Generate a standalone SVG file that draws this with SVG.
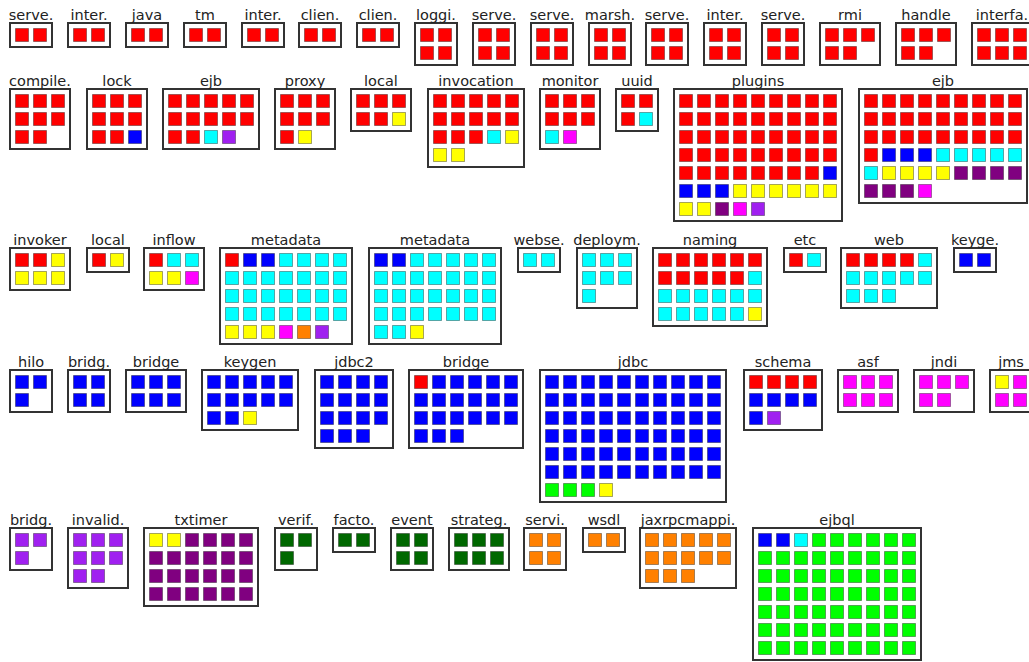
<svg xmlns="http://www.w3.org/2000/svg" width="1029" height="662" viewBox="0 0 1029 662">
<style>
.box{fill:#fff;stroke:#333;stroke-width:2}
text{font-family:"DejaVu Sans","Liberation Sans",sans-serif;font-size:14.5px;fill:#222;text-anchor:middle}
.r,.b,.c,.y,.m,.v,.p,.o,.g,.d{stroke:#000;stroke-opacity:.35;stroke-width:1}
.r{fill:#f00}.b{fill:#00f}.c{fill:#0ff}.y{fill:#ff0}.m{fill:#f0f}.v{fill:#a020f0}.p{fill:#800080}.o{fill:#ff8000}.g{fill:#0f0}.d{fill:#006800}
</style>
<rect width="1029" height="662" fill="#fff"/>
<g id="connectors"/>

<g id="n01" transform="translate(9,22)"><rect class="box" x="1" y="1" width="42" height="24"/><text x="22" y="-2">serve.</text><g class="r"><rect x="6.5" y="6.5" width="13" height="13"/><rect x="24.5" y="6.5" width="13" height="13"/></g></g>
<g id="n02" transform="translate(67,22)"><rect class="box" x="1" y="1" width="42" height="24"/><text x="22" y="-2">inter.</text><g class="r"><rect x="6.5" y="6.5" width="13" height="13"/><rect x="24.5" y="6.5" width="13" height="13"/></g></g>
<g id="n03" transform="translate(125,22)"><rect class="box" x="1" y="1" width="42" height="24"/><text x="22" y="-2">java</text><g class="r"><rect x="6.5" y="6.5" width="13" height="13"/><rect x="24.5" y="6.5" width="13" height="13"/></g></g>
<g id="n04" transform="translate(183,22)"><rect class="box" x="1" y="1" width="42" height="24"/><text x="22" y="-2">tm</text><g class="r"><rect x="6.5" y="6.5" width="13" height="13"/><rect x="24.5" y="6.5" width="13" height="13"/></g></g>
<g id="n05" transform="translate(241,22)"><rect class="box" x="1" y="1" width="42" height="24"/><text x="22" y="-2">inter.</text><g class="r"><rect x="6.5" y="6.5" width="13" height="13"/><rect x="24.5" y="6.5" width="13" height="13"/></g></g>
<g id="n06" transform="translate(298,22)"><rect class="box" x="1" y="1" width="42" height="24"/><text x="22" y="-2">clien.</text><g class="r"><rect x="6.5" y="6.5" width="13" height="13"/><rect x="24.5" y="6.5" width="13" height="13"/></g></g>
<g id="n07" transform="translate(356,22)"><rect class="box" x="1" y="1" width="42" height="24"/><text x="22" y="-2">clien.</text><g class="r"><rect x="6.5" y="6.5" width="13" height="13"/><rect x="24.5" y="6.5" width="13" height="13"/></g></g>
<g id="n08" transform="translate(414,22)"><rect class="box" x="1" y="1" width="42" height="42"/><text x="22" y="-2">loggi.</text><g class="r"><rect x="6.5" y="6.5" width="13" height="13"/><rect x="24.5" y="6.5" width="13" height="13"/><rect x="6.5" y="24.5" width="13" height="13"/><rect x="24.5" y="24.5" width="13" height="13"/></g></g>
<g id="n09" transform="translate(472,22)"><rect class="box" x="1" y="1" width="42" height="42"/><text x="22" y="-2">serve.</text><g class="r"><rect x="6.5" y="6.5" width="13" height="13"/><rect x="24.5" y="6.5" width="13" height="13"/><rect x="6.5" y="24.5" width="13" height="13"/><rect x="24.5" y="24.5" width="13" height="13"/></g></g>
<g id="n10" transform="translate(530,22)"><rect class="box" x="1" y="1" width="42" height="42"/><text x="22" y="-2">serve.</text><g class="r"><rect x="6.5" y="6.5" width="13" height="13"/><rect x="24.5" y="6.5" width="13" height="13"/><rect x="6.5" y="24.5" width="13" height="13"/><rect x="24.5" y="24.5" width="13" height="13"/></g></g>
<g id="n11" transform="translate(588,22)"><rect class="box" x="1" y="1" width="42" height="42"/><text x="22" y="-2">marsh.</text><g class="r"><rect x="6.5" y="6.5" width="13" height="13"/><rect x="24.5" y="6.5" width="13" height="13"/><rect x="6.5" y="24.5" width="13" height="13"/><rect x="24.5" y="24.5" width="13" height="13"/></g></g>
<g id="n12" transform="translate(645,22)"><rect class="box" x="1" y="1" width="42" height="42"/><text x="22" y="-2">serve.</text><g class="r"><rect x="6.5" y="6.5" width="13" height="13"/><rect x="24.5" y="6.5" width="13" height="13"/><rect x="6.5" y="24.5" width="13" height="13"/><rect x="24.5" y="24.5" width="13" height="13"/></g></g>
<g id="n13" transform="translate(703,22)"><rect class="box" x="1" y="1" width="42" height="42"/><text x="22" y="-2">inter.</text><g class="r"><rect x="6.5" y="6.5" width="13" height="13"/><rect x="24.5" y="6.5" width="13" height="13"/><rect x="6.5" y="24.5" width="13" height="13"/><rect x="24.5" y="24.5" width="13" height="13"/></g></g>
<g id="n14" transform="translate(761,22)"><rect class="box" x="1" y="1" width="42" height="42"/><text x="22" y="-2">serve.</text><g class="r"><rect x="6.5" y="6.5" width="13" height="13"/><rect x="24.5" y="6.5" width="13" height="13"/><rect x="6.5" y="24.5" width="13" height="13"/><rect x="24.5" y="24.5" width="13" height="13"/></g></g>
<g id="n15" transform="translate(819,22)"><rect class="box" x="1" y="1" width="60" height="42"/><text x="31" y="-2">rmi</text><g class="r"><rect x="6.5" y="6.5" width="13" height="13"/><rect x="24.5" y="6.5" width="13" height="13"/><rect x="42.5" y="6.5" width="13" height="13"/><rect x="6.5" y="24.5" width="13" height="13"/><rect x="24.5" y="24.5" width="13" height="13"/></g></g>
<g id="n16" transform="translate(895,22)"><rect class="box" x="1" y="1" width="60" height="42"/><text x="31" y="-2">handle</text><g class="r"><rect x="6.5" y="6.5" width="13" height="13"/><rect x="24.5" y="6.5" width="13" height="13"/><rect x="42.5" y="6.5" width="13" height="13"/><rect x="6.5" y="24.5" width="13" height="13"/><rect x="24.5" y="24.5" width="13" height="13"/></g></g>
<g id="n17" transform="translate(971,22)"><rect class="box" x="1" y="1" width="60" height="42"/><text x="31" y="-2">interfa.</text><g class="r"><rect x="6.5" y="6.5" width="13" height="13"/><rect x="24.5" y="6.5" width="13" height="13"/><rect x="42.5" y="6.5" width="13" height="13"/><rect x="6.5" y="24.5" width="13" height="13"/><rect x="24.5" y="24.5" width="13" height="13"/><rect x="42.5" y="24.5" width="13" height="13"/></g></g>

<g id="n18" transform="translate(9,88)"><rect class="box" x="1" y="1" width="60" height="60"/><text x="31" y="-2">compile.</text><g class="r"><rect x="6.5" y="6.5" width="13" height="13"/><rect x="24.5" y="6.5" width="13" height="13"/><rect x="42.5" y="6.5" width="13" height="13"/><rect x="6.5" y="24.5" width="13" height="13"/><rect x="24.5" y="24.5" width="13" height="13"/><rect x="42.5" y="24.5" width="13" height="13"/><rect x="6.5" y="42.5" width="13" height="13"/><rect x="24.5" y="42.5" width="13" height="13"/></g></g>
<g id="n19" transform="translate(86,88)"><rect class="box" x="1" y="1" width="60" height="60"/><text x="31" y="-2">lock</text><g class="r"><rect x="6.5" y="6.5" width="13" height="13"/><rect x="24.5" y="6.5" width="13" height="13"/><rect x="42.5" y="6.5" width="13" height="13"/><rect x="6.5" y="24.5" width="13" height="13"/><rect x="24.5" y="24.5" width="13" height="13"/><rect x="42.5" y="24.5" width="13" height="13"/><rect x="6.5" y="42.5" width="13" height="13"/><rect x="24.5" y="42.5" width="13" height="13"/></g><g class="b"><rect x="42.5" y="42.5" width="13" height="13"/></g></g>
<g id="n20" transform="translate(162,88)"><rect class="box" x="1" y="1" width="96" height="60"/><text x="49" y="-2">ejb</text><g class="r"><rect x="6.5" y="6.5" width="13" height="13"/><rect x="24.5" y="6.5" width="13" height="13"/><rect x="42.5" y="6.5" width="13" height="13"/><rect x="60.5" y="6.5" width="13" height="13"/><rect x="78.5" y="6.5" width="13" height="13"/><rect x="6.5" y="24.5" width="13" height="13"/><rect x="24.5" y="24.5" width="13" height="13"/><rect x="42.5" y="24.5" width="13" height="13"/><rect x="60.5" y="24.5" width="13" height="13"/><rect x="78.5" y="24.5" width="13" height="13"/><rect x="6.5" y="42.5" width="13" height="13"/><rect x="24.5" y="42.5" width="13" height="13"/></g><g class="c"><rect x="42.5" y="42.5" width="13" height="13"/></g><g class="v"><rect x="60.5" y="42.5" width="13" height="13"/></g></g>
<g id="n21" transform="translate(274,88)"><rect class="box" x="1" y="1" width="60" height="60"/><text x="31" y="-2">proxy</text><g class="r"><rect x="6.5" y="6.5" width="13" height="13"/><rect x="24.5" y="6.5" width="13" height="13"/><rect x="42.5" y="6.5" width="13" height="13"/><rect x="6.5" y="24.5" width="13" height="13"/><rect x="24.5" y="24.5" width="13" height="13"/><rect x="42.5" y="24.5" width="13" height="13"/><rect x="6.5" y="42.5" width="13" height="13"/></g><g class="y"><rect x="24.5" y="42.5" width="13" height="13"/></g></g>
<g id="n22" transform="translate(350,88)"><rect class="box" x="1" y="1" width="60" height="42"/><text x="31" y="-2">local</text><g class="r"><rect x="6.5" y="6.5" width="13" height="13"/><rect x="24.5" y="6.5" width="13" height="13"/><rect x="42.5" y="6.5" width="13" height="13"/><rect x="6.5" y="24.5" width="13" height="13"/><rect x="24.5" y="24.5" width="13" height="13"/></g><g class="y"><rect x="42.5" y="24.5" width="13" height="13"/></g></g>
<g id="n23" transform="translate(427,88)"><rect class="box" x="1" y="1" width="96" height="78"/><text x="49" y="-2">invocation</text><g class="r"><rect x="6.5" y="6.5" width="13" height="13"/><rect x="24.5" y="6.5" width="13" height="13"/><rect x="42.5" y="6.5" width="13" height="13"/><rect x="60.5" y="6.5" width="13" height="13"/><rect x="78.5" y="6.5" width="13" height="13"/><rect x="6.5" y="24.5" width="13" height="13"/><rect x="24.5" y="24.5" width="13" height="13"/><rect x="42.5" y="24.5" width="13" height="13"/><rect x="60.5" y="24.5" width="13" height="13"/><rect x="78.5" y="24.5" width="13" height="13"/><rect x="6.5" y="42.5" width="13" height="13"/><rect x="24.5" y="42.5" width="13" height="13"/><rect x="42.5" y="42.5" width="13" height="13"/></g><g class="c"><rect x="60.5" y="42.5" width="13" height="13"/></g><g class="y"><rect x="78.5" y="42.5" width="13" height="13"/><rect x="6.5" y="60.5" width="13" height="13"/><rect x="24.5" y="60.5" width="13" height="13"/></g></g>
<g id="n24" transform="translate(539,88)"><rect class="box" x="1" y="1" width="60" height="60"/><text x="31" y="-2">monitor</text><g class="r"><rect x="6.5" y="6.5" width="13" height="13"/><rect x="24.5" y="6.5" width="13" height="13"/><rect x="42.5" y="6.5" width="13" height="13"/><rect x="6.5" y="24.5" width="13" height="13"/><rect x="24.5" y="24.5" width="13" height="13"/><rect x="42.5" y="24.5" width="13" height="13"/></g><g class="c"><rect x="6.5" y="42.5" width="13" height="13"/></g><g class="m"><rect x="24.5" y="42.5" width="13" height="13"/></g></g>
<g id="n25" transform="translate(615,88)"><rect class="box" x="1" y="1" width="42" height="42"/><text x="22" y="-2">uuid</text><g class="r"><rect x="6.5" y="6.5" width="13" height="13"/><rect x="24.5" y="6.5" width="13" height="13"/><rect x="6.5" y="24.5" width="13" height="13"/></g><g class="c"><rect x="24.5" y="24.5" width="13" height="13"/></g></g>
<g id="n26" transform="translate(673,88)"><rect class="box" x="1" y="1" width="168" height="132"/><text x="85" y="-2">plugins</text><g class="r">
<rect x="6.5" y="6.5" width="13" height="13"/><rect x="24.5" y="6.5" width="13" height="13"/><rect x="42.5" y="6.5" width="13" height="13"/><rect x="60.5" y="6.5" width="13" height="13"/><rect x="78.5" y="6.5" width="13" height="13"/><rect x="96.5" y="6.5" width="13" height="13"/><rect x="114.5" y="6.5" width="13" height="13"/><rect x="132.5" y="6.5" width="13" height="13"/><rect x="150.5" y="6.5" width="13" height="13"/>
<rect x="6.5" y="24.5" width="13" height="13"/><rect x="24.5" y="24.5" width="13" height="13"/><rect x="42.5" y="24.5" width="13" height="13"/><rect x="60.5" y="24.5" width="13" height="13"/><rect x="78.5" y="24.5" width="13" height="13"/><rect x="96.5" y="24.5" width="13" height="13"/><rect x="114.5" y="24.5" width="13" height="13"/><rect x="132.5" y="24.5" width="13" height="13"/><rect x="150.5" y="24.5" width="13" height="13"/>
<rect x="6.5" y="42.5" width="13" height="13"/><rect x="24.5" y="42.5" width="13" height="13"/><rect x="42.5" y="42.5" width="13" height="13"/><rect x="60.5" y="42.5" width="13" height="13"/><rect x="78.5" y="42.5" width="13" height="13"/><rect x="96.5" y="42.5" width="13" height="13"/><rect x="114.5" y="42.5" width="13" height="13"/><rect x="132.5" y="42.5" width="13" height="13"/><rect x="150.5" y="42.5" width="13" height="13"/>
<rect x="6.5" y="60.5" width="13" height="13"/><rect x="24.5" y="60.5" width="13" height="13"/><rect x="42.5" y="60.5" width="13" height="13"/><rect x="60.5" y="60.5" width="13" height="13"/><rect x="78.5" y="60.5" width="13" height="13"/><rect x="96.5" y="60.5" width="13" height="13"/><rect x="114.5" y="60.5" width="13" height="13"/><rect x="132.5" y="60.5" width="13" height="13"/><rect x="150.5" y="60.5" width="13" height="13"/>
<rect x="6.5" y="78.5" width="13" height="13"/><rect x="24.5" y="78.5" width="13" height="13"/><rect x="42.5" y="78.5" width="13" height="13"/><rect x="60.5" y="78.5" width="13" height="13"/><rect x="78.5" y="78.5" width="13" height="13"/><rect x="96.5" y="78.5" width="13" height="13"/><rect x="114.5" y="78.5" width="13" height="13"/><rect x="132.5" y="78.5" width="13" height="13"/>
</g><g class="b"><rect x="150.5" y="78.5" width="13" height="13"/><rect x="6.5" y="96.5" width="13" height="13"/><rect x="24.5" y="96.5" width="13" height="13"/><rect x="42.5" y="96.5" width="13" height="13"/></g><g class="y"><rect x="60.5" y="96.5" width="13" height="13"/><rect x="78.5" y="96.5" width="13" height="13"/><rect x="96.5" y="96.5" width="13" height="13"/><rect x="114.5" y="96.5" width="13" height="13"/><rect x="132.5" y="96.5" width="13" height="13"/><rect x="150.5" y="96.5" width="13" height="13"/><rect x="6.5" y="114.5" width="13" height="13"/><rect x="24.5" y="114.5" width="13" height="13"/></g><g class="p"><rect x="42.5" y="114.5" width="13" height="13"/></g><g class="m"><rect x="60.5" y="114.5" width="13" height="13"/></g><g class="v"><rect x="78.5" y="114.5" width="13" height="13"/></g></g>
<g id="n27" transform="translate(858,88)"><rect class="box" x="1" y="1" width="168" height="114"/><text x="85" y="-2">ejb</text><g class="r">
<rect x="6.5" y="6.5" width="13" height="13"/><rect x="24.5" y="6.5" width="13" height="13"/><rect x="42.5" y="6.5" width="13" height="13"/><rect x="60.5" y="6.5" width="13" height="13"/><rect x="78.5" y="6.5" width="13" height="13"/><rect x="96.5" y="6.5" width="13" height="13"/><rect x="114.5" y="6.5" width="13" height="13"/><rect x="132.5" y="6.5" width="13" height="13"/><rect x="150.5" y="6.5" width="13" height="13"/>
<rect x="6.5" y="24.5" width="13" height="13"/><rect x="24.5" y="24.5" width="13" height="13"/><rect x="42.5" y="24.5" width="13" height="13"/><rect x="60.5" y="24.5" width="13" height="13"/><rect x="78.5" y="24.5" width="13" height="13"/><rect x="96.5" y="24.5" width="13" height="13"/><rect x="114.5" y="24.5" width="13" height="13"/><rect x="132.5" y="24.5" width="13" height="13"/><rect x="150.5" y="24.5" width="13" height="13"/>
<rect x="6.5" y="42.5" width="13" height="13"/><rect x="24.5" y="42.5" width="13" height="13"/><rect x="42.5" y="42.5" width="13" height="13"/><rect x="60.5" y="42.5" width="13" height="13"/><rect x="78.5" y="42.5" width="13" height="13"/><rect x="96.5" y="42.5" width="13" height="13"/><rect x="114.5" y="42.5" width="13" height="13"/><rect x="132.5" y="42.5" width="13" height="13"/><rect x="150.5" y="42.5" width="13" height="13"/>
<rect x="6.5" y="60.5" width="13" height="13"/>
</g><g class="b"><rect x="24.5" y="60.5" width="13" height="13"/><rect x="42.5" y="60.5" width="13" height="13"/><rect x="60.5" y="60.5" width="13" height="13"/></g><g class="c"><rect x="78.5" y="60.5" width="13" height="13"/><rect x="96.5" y="60.5" width="13" height="13"/><rect x="114.5" y="60.5" width="13" height="13"/><rect x="132.5" y="60.5" width="13" height="13"/><rect x="150.5" y="60.5" width="13" height="13"/><rect x="6.5" y="78.5" width="13" height="13"/></g><g class="y"><rect x="24.5" y="78.5" width="13" height="13"/><rect x="42.5" y="78.5" width="13" height="13"/><rect x="60.5" y="78.5" width="13" height="13"/><rect x="78.5" y="78.5" width="13" height="13"/></g><g class="p"><rect x="96.5" y="78.5" width="13" height="13"/><rect x="114.5" y="78.5" width="13" height="13"/><rect x="132.5" y="78.5" width="13" height="13"/><rect x="150.5" y="78.5" width="13" height="13"/><rect x="6.5" y="96.5" width="13" height="13"/><rect x="24.5" y="96.5" width="13" height="13"/><rect x="42.5" y="96.5" width="13" height="13"/></g><g class="m"><rect x="60.5" y="96.5" width="13" height="13"/></g></g>

<g id="n28" transform="translate(9,247)"><rect class="box" x="1" y="1" width="60" height="42"/><text x="31" y="-2">invoker</text><g class="r"><rect x="6.5" y="6.5" width="13" height="13"/><rect x="24.5" y="6.5" width="13" height="13"/></g><g class="y"><rect x="42.5" y="6.5" width="13" height="13"/><rect x="6.5" y="24.5" width="13" height="13"/><rect x="24.5" y="24.5" width="13" height="13"/><rect x="42.5" y="24.5" width="13" height="13"/></g></g>
<g id="n29" transform="translate(86,247)"><rect class="box" x="1" y="1" width="42" height="24"/><text x="22" y="-2">local</text><g class="r"><rect x="6.5" y="6.5" width="13" height="13"/></g><g class="y"><rect x="24.5" y="6.5" width="13" height="13"/></g></g>
<g id="n30" transform="translate(143,247)"><rect class="box" x="1" y="1" width="60" height="42"/><text x="31" y="-2">inflow</text><g class="r"><rect x="6.5" y="6.5" width="13" height="13"/></g><g class="c"><rect x="24.5" y="6.5" width="13" height="13"/><rect x="42.5" y="6.5" width="13" height="13"/></g><g class="y"><rect x="6.5" y="24.5" width="13" height="13"/><rect x="24.5" y="24.5" width="13" height="13"/></g><g class="m"><rect x="42.5" y="24.5" width="13" height="13"/></g></g>
<g id="n31" transform="translate(219,247)"><rect class="box" x="1" y="1" width="132" height="96"/><text x="67" y="-2">metadata</text><g class="r"><rect x="6.5" y="6.5" width="13" height="13"/></g><g class="b"><rect x="24.5" y="6.5" width="13" height="13"/><rect x="42.5" y="6.5" width="13" height="13"/></g><g class="c">
<rect x="60.5" y="6.5" width="13" height="13"/><rect x="78.5" y="6.5" width="13" height="13"/><rect x="96.5" y="6.5" width="13" height="13"/><rect x="114.5" y="6.5" width="13" height="13"/>
<rect x="6.5" y="24.5" width="13" height="13"/><rect x="24.5" y="24.5" width="13" height="13"/><rect x="42.5" y="24.5" width="13" height="13"/><rect x="60.5" y="24.5" width="13" height="13"/><rect x="78.5" y="24.5" width="13" height="13"/><rect x="96.5" y="24.5" width="13" height="13"/><rect x="114.5" y="24.5" width="13" height="13"/>
<rect x="6.5" y="42.5" width="13" height="13"/><rect x="24.5" y="42.5" width="13" height="13"/><rect x="42.5" y="42.5" width="13" height="13"/><rect x="60.5" y="42.5" width="13" height="13"/><rect x="78.5" y="42.5" width="13" height="13"/><rect x="96.5" y="42.5" width="13" height="13"/><rect x="114.5" y="42.5" width="13" height="13"/>
<rect x="6.5" y="60.5" width="13" height="13"/><rect x="24.5" y="60.5" width="13" height="13"/><rect x="42.5" y="60.5" width="13" height="13"/><rect x="60.5" y="60.5" width="13" height="13"/><rect x="78.5" y="60.5" width="13" height="13"/><rect x="96.5" y="60.5" width="13" height="13"/><rect x="114.5" y="60.5" width="13" height="13"/>
</g><g class="y"><rect x="6.5" y="78.5" width="13" height="13"/><rect x="24.5" y="78.5" width="13" height="13"/><rect x="42.5" y="78.5" width="13" height="13"/></g><g class="m"><rect x="60.5" y="78.5" width="13" height="13"/></g><g class="o"><rect x="78.5" y="78.5" width="13" height="13"/></g><g class="v"><rect x="96.5" y="78.5" width="13" height="13"/></g></g>
<g id="n32" transform="translate(368,247)"><rect class="box" x="1" y="1" width="132" height="96"/><text x="67" y="-2">metadata</text><g class="b"><rect x="6.5" y="6.5" width="13" height="13"/><rect x="24.5" y="6.5" width="13" height="13"/></g><g class="c">
<rect x="42.5" y="6.5" width="13" height="13"/><rect x="60.5" y="6.5" width="13" height="13"/><rect x="78.5" y="6.5" width="13" height="13"/><rect x="96.5" y="6.5" width="13" height="13"/><rect x="114.5" y="6.5" width="13" height="13"/>
<rect x="6.5" y="24.5" width="13" height="13"/><rect x="24.5" y="24.5" width="13" height="13"/><rect x="42.5" y="24.5" width="13" height="13"/><rect x="60.5" y="24.5" width="13" height="13"/><rect x="78.5" y="24.5" width="13" height="13"/><rect x="96.5" y="24.5" width="13" height="13"/><rect x="114.5" y="24.5" width="13" height="13"/>
<rect x="6.5" y="42.5" width="13" height="13"/><rect x="24.5" y="42.5" width="13" height="13"/><rect x="42.5" y="42.5" width="13" height="13"/><rect x="60.5" y="42.5" width="13" height="13"/><rect x="78.5" y="42.5" width="13" height="13"/><rect x="96.5" y="42.5" width="13" height="13"/><rect x="114.5" y="42.5" width="13" height="13"/>
<rect x="6.5" y="60.5" width="13" height="13"/><rect x="24.5" y="60.5" width="13" height="13"/><rect x="42.5" y="60.5" width="13" height="13"/><rect x="60.5" y="60.5" width="13" height="13"/><rect x="78.5" y="60.5" width="13" height="13"/><rect x="96.5" y="60.5" width="13" height="13"/><rect x="114.5" y="60.5" width="13" height="13"/>
<rect x="6.5" y="78.5" width="13" height="13"/><rect x="24.5" y="78.5" width="13" height="13"/>
</g><g class="y"><rect x="42.5" y="78.5" width="13" height="13"/></g></g>
<g id="n33" transform="translate(517,247)"><rect class="box" x="1" y="1" width="42" height="24"/><text x="22" y="-2">webse.</text><g class="c"><rect x="6.5" y="6.5" width="13" height="13"/><rect x="24.5" y="6.5" width="13" height="13"/></g></g>
<g id="n34" transform="translate(576,247)"><rect class="box" x="1" y="1" width="60" height="60"/><text x="31" y="-2">deploym.</text><g class="c"><rect x="6.5" y="6.5" width="13" height="13"/><rect x="24.5" y="6.5" width="13" height="13"/><rect x="42.5" y="6.5" width="13" height="13"/><rect x="6.5" y="24.5" width="13" height="13"/><rect x="24.5" y="24.5" width="13" height="13"/><rect x="42.5" y="24.5" width="13" height="13"/><rect x="6.5" y="42.5" width="13" height="13"/></g></g>
<g id="n35" transform="translate(652,247)"><rect class="box" x="1" y="1" width="114" height="78"/><text x="58" y="-2">naming</text><g class="r"><rect x="6.5" y="6.5" width="13" height="13"/><rect x="24.5" y="6.5" width="13" height="13"/><rect x="42.5" y="6.5" width="13" height="13"/><rect x="60.5" y="6.5" width="13" height="13"/><rect x="78.5" y="6.5" width="13" height="13"/><rect x="96.5" y="6.5" width="13" height="13"/><rect x="6.5" y="24.5" width="13" height="13"/><rect x="24.5" y="24.5" width="13" height="13"/><rect x="42.5" y="24.5" width="13" height="13"/><rect x="60.5" y="24.5" width="13" height="13"/><rect x="78.5" y="24.5" width="13" height="13"/></g><g class="c"><rect x="96.5" y="24.5" width="13" height="13"/><rect x="6.5" y="42.5" width="13" height="13"/><rect x="24.5" y="42.5" width="13" height="13"/><rect x="42.5" y="42.5" width="13" height="13"/><rect x="60.5" y="42.5" width="13" height="13"/><rect x="78.5" y="42.5" width="13" height="13"/><rect x="96.5" y="42.5" width="13" height="13"/><rect x="6.5" y="60.5" width="13" height="13"/><rect x="24.5" y="60.5" width="13" height="13"/><rect x="42.5" y="60.5" width="13" height="13"/><rect x="60.5" y="60.5" width="13" height="13"/><rect x="78.5" y="60.5" width="13" height="13"/></g><g class="y"><rect x="96.5" y="60.5" width="13" height="13"/></g></g>
<g id="n36" transform="translate(783,247)"><rect class="box" x="1" y="1" width="42" height="24"/><text x="22" y="-2">etc</text><g class="r"><rect x="6.5" y="6.5" width="13" height="13"/></g><g class="c"><rect x="24.5" y="6.5" width="13" height="13"/></g></g>
<g id="n37" transform="translate(840,247)"><rect class="box" x="1" y="1" width="96" height="60"/><text x="49" y="-2">web</text><g class="r"><rect x="6.5" y="6.5" width="13" height="13"/><rect x="24.5" y="6.5" width="13" height="13"/><rect x="42.5" y="6.5" width="13" height="13"/><rect x="60.5" y="6.5" width="13" height="13"/></g><g class="c"><rect x="78.5" y="6.5" width="13" height="13"/><rect x="6.5" y="24.5" width="13" height="13"/><rect x="24.5" y="24.5" width="13" height="13"/><rect x="42.5" y="24.5" width="13" height="13"/><rect x="60.5" y="24.5" width="13" height="13"/><rect x="78.5" y="24.5" width="13" height="13"/><rect x="6.5" y="42.5" width="13" height="13"/><rect x="24.5" y="42.5" width="13" height="13"/><rect x="42.5" y="42.5" width="13" height="13"/></g></g>
<g id="n38" transform="translate(953,247)"><rect class="box" x="1" y="1" width="42" height="24"/><text x="22" y="-2">keyge.</text><g class="b"><rect x="6.5" y="6.5" width="13" height="13"/><rect x="24.5" y="6.5" width="13" height="13"/></g></g>

<g id="n39" transform="translate(9,369)"><rect class="box" x="1" y="1" width="42" height="42"/><text x="22" y="-2">hilo</text><g class="b"><rect x="6.5" y="6.5" width="13" height="13"/><rect x="24.5" y="6.5" width="13" height="13"/><rect x="6.5" y="24.5" width="13" height="13"/></g></g>
<g id="n40" transform="translate(67,369)"><rect class="box" x="1" y="1" width="42" height="42"/><text x="22" y="-2">bridg.</text><g class="b"><rect x="6.5" y="6.5" width="13" height="13"/><rect x="24.5" y="6.5" width="13" height="13"/><rect x="6.5" y="24.5" width="13" height="13"/><rect x="24.5" y="24.5" width="13" height="13"/></g></g>
<g id="n41" transform="translate(125,369)"><rect class="box" x="1" y="1" width="60" height="42"/><text x="31" y="-2">bridge</text><g class="b"><rect x="6.5" y="6.5" width="13" height="13"/><rect x="24.5" y="6.5" width="13" height="13"/><rect x="42.5" y="6.5" width="13" height="13"/><rect x="6.5" y="24.5" width="13" height="13"/><rect x="24.5" y="24.5" width="13" height="13"/><rect x="42.5" y="24.5" width="13" height="13"/></g></g>
<g id="n42" transform="translate(201,369)"><rect class="box" x="1" y="1" width="96" height="60"/><text x="49" y="-2">keygen</text><g class="b"><rect x="6.5" y="6.5" width="13" height="13"/><rect x="24.5" y="6.5" width="13" height="13"/><rect x="42.5" y="6.5" width="13" height="13"/><rect x="60.5" y="6.5" width="13" height="13"/><rect x="78.5" y="6.5" width="13" height="13"/><rect x="6.5" y="24.5" width="13" height="13"/><rect x="24.5" y="24.5" width="13" height="13"/><rect x="42.5" y="24.5" width="13" height="13"/><rect x="60.5" y="24.5" width="13" height="13"/><rect x="78.5" y="24.5" width="13" height="13"/><rect x="6.5" y="42.5" width="13" height="13"/><rect x="24.5" y="42.5" width="13" height="13"/></g><g class="y"><rect x="42.5" y="42.5" width="13" height="13"/></g></g>
<g id="n43" transform="translate(314,369)"><rect class="box" x="1" y="1" width="78" height="78"/><text x="40" y="-2">jdbc2</text><g class="b"><rect x="6.5" y="6.5" width="13" height="13"/><rect x="24.5" y="6.5" width="13" height="13"/><rect x="42.5" y="6.5" width="13" height="13"/><rect x="60.5" y="6.5" width="13" height="13"/><rect x="6.5" y="24.5" width="13" height="13"/><rect x="24.5" y="24.5" width="13" height="13"/><rect x="42.5" y="24.5" width="13" height="13"/><rect x="60.5" y="24.5" width="13" height="13"/><rect x="6.5" y="42.5" width="13" height="13"/><rect x="24.5" y="42.5" width="13" height="13"/><rect x="42.5" y="42.5" width="13" height="13"/><rect x="60.5" y="42.5" width="13" height="13"/><rect x="6.5" y="60.5" width="13" height="13"/><rect x="24.5" y="60.5" width="13" height="13"/><rect x="42.5" y="60.5" width="13" height="13"/></g></g>
<g id="n44" transform="translate(408,369)"><rect class="box" x="1" y="1" width="114" height="78"/><text x="58" y="-2">bridge</text><g class="r"><rect x="6.5" y="6.5" width="13" height="13"/></g><g class="b"><rect x="24.5" y="6.5" width="13" height="13"/><rect x="42.5" y="6.5" width="13" height="13"/><rect x="60.5" y="6.5" width="13" height="13"/><rect x="78.5" y="6.5" width="13" height="13"/><rect x="96.5" y="6.5" width="13" height="13"/><rect x="6.5" y="24.5" width="13" height="13"/><rect x="24.5" y="24.5" width="13" height="13"/><rect x="42.5" y="24.5" width="13" height="13"/><rect x="60.5" y="24.5" width="13" height="13"/><rect x="78.5" y="24.5" width="13" height="13"/><rect x="96.5" y="24.5" width="13" height="13"/><rect x="6.5" y="42.5" width="13" height="13"/><rect x="24.5" y="42.5" width="13" height="13"/><rect x="42.5" y="42.5" width="13" height="13"/><rect x="60.5" y="42.5" width="13" height="13"/><rect x="78.5" y="42.5" width="13" height="13"/><rect x="96.5" y="42.5" width="13" height="13"/><rect x="6.5" y="60.5" width="13" height="13"/><rect x="24.5" y="60.5" width="13" height="13"/><rect x="42.5" y="60.5" width="13" height="13"/></g></g>
<g id="n45" transform="translate(539,369)"><rect class="box" x="1" y="1" width="186" height="132"/><text x="94" y="-2">jdbc</text><g class="b">
<rect x="6.5" y="6.5" width="13" height="13"/><rect x="24.5" y="6.5" width="13" height="13"/><rect x="42.5" y="6.5" width="13" height="13"/><rect x="60.5" y="6.5" width="13" height="13"/><rect x="78.5" y="6.5" width="13" height="13"/><rect x="96.5" y="6.5" width="13" height="13"/><rect x="114.5" y="6.5" width="13" height="13"/><rect x="132.5" y="6.5" width="13" height="13"/><rect x="150.5" y="6.5" width="13" height="13"/><rect x="168.5" y="6.5" width="13" height="13"/>
<rect x="6.5" y="24.5" width="13" height="13"/><rect x="24.5" y="24.5" width="13" height="13"/><rect x="42.5" y="24.5" width="13" height="13"/><rect x="60.5" y="24.5" width="13" height="13"/><rect x="78.5" y="24.5" width="13" height="13"/><rect x="96.5" y="24.5" width="13" height="13"/><rect x="114.5" y="24.5" width="13" height="13"/><rect x="132.5" y="24.5" width="13" height="13"/><rect x="150.5" y="24.5" width="13" height="13"/><rect x="168.5" y="24.5" width="13" height="13"/>
<rect x="6.5" y="42.5" width="13" height="13"/><rect x="24.5" y="42.5" width="13" height="13"/><rect x="42.5" y="42.5" width="13" height="13"/><rect x="60.5" y="42.5" width="13" height="13"/><rect x="78.5" y="42.5" width="13" height="13"/><rect x="96.5" y="42.5" width="13" height="13"/><rect x="114.5" y="42.5" width="13" height="13"/><rect x="132.5" y="42.5" width="13" height="13"/><rect x="150.5" y="42.5" width="13" height="13"/><rect x="168.5" y="42.5" width="13" height="13"/>
<rect x="6.5" y="60.5" width="13" height="13"/><rect x="24.5" y="60.5" width="13" height="13"/><rect x="42.5" y="60.5" width="13" height="13"/><rect x="60.5" y="60.5" width="13" height="13"/><rect x="78.5" y="60.5" width="13" height="13"/><rect x="96.5" y="60.5" width="13" height="13"/><rect x="114.5" y="60.5" width="13" height="13"/><rect x="132.5" y="60.5" width="13" height="13"/><rect x="150.5" y="60.5" width="13" height="13"/><rect x="168.5" y="60.5" width="13" height="13"/>
<rect x="6.5" y="78.5" width="13" height="13"/><rect x="24.5" y="78.5" width="13" height="13"/><rect x="42.5" y="78.5" width="13" height="13"/><rect x="60.5" y="78.5" width="13" height="13"/><rect x="78.5" y="78.5" width="13" height="13"/><rect x="96.5" y="78.5" width="13" height="13"/><rect x="114.5" y="78.5" width="13" height="13"/><rect x="132.5" y="78.5" width="13" height="13"/><rect x="150.5" y="78.5" width="13" height="13"/><rect x="168.5" y="78.5" width="13" height="13"/>
<rect x="6.5" y="96.5" width="13" height="13"/><rect x="24.5" y="96.5" width="13" height="13"/><rect x="42.5" y="96.5" width="13" height="13"/><rect x="60.5" y="96.5" width="13" height="13"/><rect x="78.5" y="96.5" width="13" height="13"/><rect x="96.5" y="96.5" width="13" height="13"/><rect x="114.5" y="96.5" width="13" height="13"/><rect x="132.5" y="96.5" width="13" height="13"/><rect x="150.5" y="96.5" width="13" height="13"/><rect x="168.5" y="96.5" width="13" height="13"/>
</g><g class="g"><rect x="6.5" y="114.5" width="13" height="13"/><rect x="24.5" y="114.5" width="13" height="13"/><rect x="42.5" y="114.5" width="13" height="13"/></g><g class="y"><rect x="60.5" y="114.5" width="13" height="13"/></g></g>
<g id="n46" transform="translate(743,369)"><rect class="box" x="1" y="1" width="78" height="60"/><text x="40" y="-2">schema</text><g class="r"><rect x="6.5" y="6.5" width="13" height="13"/><rect x="24.5" y="6.5" width="13" height="13"/><rect x="42.5" y="6.5" width="13" height="13"/><rect x="60.5" y="6.5" width="13" height="13"/></g><g class="b"><rect x="6.5" y="24.5" width="13" height="13"/><rect x="24.5" y="24.5" width="13" height="13"/><rect x="42.5" y="24.5" width="13" height="13"/><rect x="60.5" y="24.5" width="13" height="13"/><rect x="6.5" y="42.5" width="13" height="13"/></g><g class="v"><rect x="24.5" y="42.5" width="13" height="13"/></g></g>
<g id="n47" transform="translate(837,369)"><rect class="box" x="1" y="1" width="60" height="42"/><text x="31" y="-2">asf</text><g class="m"><rect x="6.5" y="6.5" width="13" height="13"/><rect x="24.5" y="6.5" width="13" height="13"/><rect x="42.5" y="6.5" width="13" height="13"/><rect x="6.5" y="24.5" width="13" height="13"/><rect x="24.5" y="24.5" width="13" height="13"/><rect x="42.5" y="24.5" width="13" height="13"/></g></g>
<g id="n48" transform="translate(913,369)"><rect class="box" x="1" y="1" width="60" height="42"/><text x="31" y="-2">jndi</text><g class="m"><rect x="6.5" y="6.5" width="13" height="13"/><rect x="24.5" y="6.5" width="13" height="13"/><rect x="42.5" y="6.5" width="13" height="13"/><rect x="6.5" y="24.5" width="13" height="13"/><rect x="24.5" y="24.5" width="13" height="13"/></g></g>
<g id="n49" transform="translate(989,369)"><rect class="box" x="1" y="1" width="42" height="42"/><text x="22" y="-2">jms</text><g class="y"><rect x="6.5" y="6.5" width="13" height="13"/></g><g class="m"><rect x="24.5" y="6.5" width="13" height="13"/><rect x="6.5" y="24.5" width="13" height="13"/><rect x="24.5" y="24.5" width="13" height="13"/></g></g>

<g id="n50" transform="translate(9,527)"><rect class="box" x="1" y="1" width="42" height="42"/><text x="22" y="-2">bridg.</text><g class="v"><rect x="6.5" y="6.5" width="13" height="13"/><rect x="24.5" y="6.5" width="13" height="13"/><rect x="6.5" y="24.5" width="13" height="13"/></g></g>
<g id="n51" transform="translate(67,527)"><rect class="box" x="1" y="1" width="60" height="60"/><text x="31" y="-2">invalid.</text><g class="v"><rect x="6.5" y="6.5" width="13" height="13"/><rect x="24.5" y="6.5" width="13" height="13"/><rect x="42.5" y="6.5" width="13" height="13"/><rect x="6.5" y="24.5" width="13" height="13"/><rect x="24.5" y="24.5" width="13" height="13"/><rect x="42.5" y="24.5" width="13" height="13"/><rect x="6.5" y="42.5" width="13" height="13"/><rect x="24.5" y="42.5" width="13" height="13"/></g></g>
<g id="n52" transform="translate(143,527)"><rect class="box" x="1" y="1" width="114" height="78"/><text x="58" y="-2">txtimer</text><g class="y"><rect x="6.5" y="6.5" width="13" height="13"/><rect x="24.5" y="6.5" width="13" height="13"/></g><g class="p"><rect x="42.5" y="6.5" width="13" height="13"/><rect x="60.5" y="6.5" width="13" height="13"/><rect x="78.5" y="6.5" width="13" height="13"/><rect x="96.5" y="6.5" width="13" height="13"/><rect x="6.5" y="24.5" width="13" height="13"/><rect x="24.5" y="24.5" width="13" height="13"/><rect x="42.5" y="24.5" width="13" height="13"/><rect x="60.5" y="24.5" width="13" height="13"/><rect x="78.5" y="24.5" width="13" height="13"/><rect x="96.5" y="24.5" width="13" height="13"/><rect x="6.5" y="42.5" width="13" height="13"/><rect x="24.5" y="42.5" width="13" height="13"/><rect x="42.5" y="42.5" width="13" height="13"/><rect x="60.5" y="42.5" width="13" height="13"/><rect x="78.5" y="42.5" width="13" height="13"/><rect x="96.5" y="42.5" width="13" height="13"/><rect x="6.5" y="60.5" width="13" height="13"/><rect x="24.5" y="60.5" width="13" height="13"/><rect x="42.5" y="60.5" width="13" height="13"/><rect x="60.5" y="60.5" width="13" height="13"/><rect x="78.5" y="60.5" width="13" height="13"/><rect x="96.5" y="60.5" width="13" height="13"/></g></g>
<g id="n53" transform="translate(274,527)"><rect class="box" x="1" y="1" width="42" height="42"/><text x="22" y="-2">verif.</text><g class="d"><rect x="6.5" y="6.5" width="13" height="13"/><rect x="24.5" y="6.5" width="13" height="13"/><rect x="6.5" y="24.5" width="13" height="13"/></g></g>
<g id="n54" transform="translate(332,527)"><rect class="box" x="1" y="1" width="42" height="24"/><text x="22" y="-2">facto.</text><g class="d"><rect x="6.5" y="6.5" width="13" height="13"/><rect x="24.5" y="6.5" width="13" height="13"/></g></g>
<g id="n55" transform="translate(390,527)"><rect class="box" x="1" y="1" width="42" height="42"/><text x="22" y="-2">event</text><g class="d"><rect x="6.5" y="6.5" width="13" height="13"/><rect x="24.5" y="6.5" width="13" height="13"/><rect x="6.5" y="24.5" width="13" height="13"/><rect x="24.5" y="24.5" width="13" height="13"/></g></g>
<g id="n56" transform="translate(448,527)"><rect class="box" x="1" y="1" width="60" height="42"/><text x="31" y="-2">strateg.</text><g class="d"><rect x="6.5" y="6.5" width="13" height="13"/><rect x="24.5" y="6.5" width="13" height="13"/><rect x="42.5" y="6.5" width="13" height="13"/><rect x="6.5" y="24.5" width="13" height="13"/><rect x="24.5" y="24.5" width="13" height="13"/><rect x="42.5" y="24.5" width="13" height="13"/></g></g>
<g id="n57" transform="translate(523,527)"><rect class="box" x="1" y="1" width="42" height="42"/><text x="22" y="-2">servi.</text><g class="o"><rect x="6.5" y="6.5" width="13" height="13"/><rect x="24.5" y="6.5" width="13" height="13"/><rect x="6.5" y="24.5" width="13" height="13"/><rect x="24.5" y="24.5" width="13" height="13"/></g></g>
<g id="n58" transform="translate(582,527)"><rect class="box" x="1" y="1" width="42" height="24"/><text x="22" y="-2">wsdl</text><g class="o"><rect x="6.5" y="6.5" width="13" height="13"/><rect x="24.5" y="6.5" width="13" height="13"/></g></g>
<g id="n59" transform="translate(639,527)"><rect class="box" x="1" y="1" width="96" height="60"/><text x="49" y="-2">jaxrpcmappi.</text><g class="o"><rect x="6.5" y="6.5" width="13" height="13"/><rect x="24.5" y="6.5" width="13" height="13"/><rect x="42.5" y="6.5" width="13" height="13"/><rect x="60.5" y="6.5" width="13" height="13"/><rect x="78.5" y="6.5" width="13" height="13"/><rect x="6.5" y="24.5" width="13" height="13"/><rect x="24.5" y="24.5" width="13" height="13"/><rect x="42.5" y="24.5" width="13" height="13"/><rect x="60.5" y="24.5" width="13" height="13"/><rect x="78.5" y="24.5" width="13" height="13"/><rect x="6.5" y="42.5" width="13" height="13"/><rect x="24.5" y="42.5" width="13" height="13"/><rect x="42.5" y="42.5" width="13" height="13"/></g></g>
<g id="n60" transform="translate(752,527)"><rect class="box" x="1" y="1" width="168" height="132"/><text x="85" y="-2">ejbql</text><g class="b"><rect x="6.5" y="6.5" width="13" height="13"/><rect x="24.5" y="6.5" width="13" height="13"/></g><g class="c"><rect x="42.5" y="6.5" width="13" height="13"/></g><g class="g">
<rect x="60.5" y="6.5" width="13" height="13"/><rect x="78.5" y="6.5" width="13" height="13"/><rect x="96.5" y="6.5" width="13" height="13"/><rect x="114.5" y="6.5" width="13" height="13"/><rect x="132.5" y="6.5" width="13" height="13"/><rect x="150.5" y="6.5" width="13" height="13"/>
<rect x="6.5" y="24.5" width="13" height="13"/><rect x="24.5" y="24.5" width="13" height="13"/><rect x="42.5" y="24.5" width="13" height="13"/><rect x="60.5" y="24.5" width="13" height="13"/><rect x="78.5" y="24.5" width="13" height="13"/><rect x="96.5" y="24.5" width="13" height="13"/><rect x="114.5" y="24.5" width="13" height="13"/><rect x="132.5" y="24.5" width="13" height="13"/><rect x="150.5" y="24.5" width="13" height="13"/>
<rect x="6.5" y="42.5" width="13" height="13"/><rect x="24.5" y="42.5" width="13" height="13"/><rect x="42.5" y="42.5" width="13" height="13"/><rect x="60.5" y="42.5" width="13" height="13"/><rect x="78.5" y="42.5" width="13" height="13"/><rect x="96.5" y="42.5" width="13" height="13"/><rect x="114.5" y="42.5" width="13" height="13"/><rect x="132.5" y="42.5" width="13" height="13"/><rect x="150.5" y="42.5" width="13" height="13"/>
<rect x="6.5" y="60.5" width="13" height="13"/><rect x="24.5" y="60.5" width="13" height="13"/><rect x="42.5" y="60.5" width="13" height="13"/><rect x="60.5" y="60.5" width="13" height="13"/><rect x="78.5" y="60.5" width="13" height="13"/><rect x="96.5" y="60.5" width="13" height="13"/><rect x="114.5" y="60.5" width="13" height="13"/><rect x="132.5" y="60.5" width="13" height="13"/><rect x="150.5" y="60.5" width="13" height="13"/>
<rect x="6.5" y="78.5" width="13" height="13"/><rect x="24.5" y="78.5" width="13" height="13"/><rect x="42.5" y="78.5" width="13" height="13"/><rect x="60.5" y="78.5" width="13" height="13"/><rect x="78.5" y="78.5" width="13" height="13"/><rect x="96.5" y="78.5" width="13" height="13"/><rect x="114.5" y="78.5" width="13" height="13"/><rect x="132.5" y="78.5" width="13" height="13"/><rect x="150.5" y="78.5" width="13" height="13"/>
<rect x="6.5" y="96.5" width="13" height="13"/><rect x="24.5" y="96.5" width="13" height="13"/><rect x="42.5" y="96.5" width="13" height="13"/><rect x="60.5" y="96.5" width="13" height="13"/><rect x="78.5" y="96.5" width="13" height="13"/><rect x="96.5" y="96.5" width="13" height="13"/><rect x="114.5" y="96.5" width="13" height="13"/><rect x="132.5" y="96.5" width="13" height="13"/><rect x="150.5" y="96.5" width="13" height="13"/>
<rect x="6.5" y="114.5" width="13" height="13"/><rect x="24.5" y="114.5" width="13" height="13"/><rect x="42.5" y="114.5" width="13" height="13"/><rect x="60.5" y="114.5" width="13" height="13"/><rect x="78.5" y="114.5" width="13" height="13"/><rect x="96.5" y="114.5" width="13" height="13"/><rect x="114.5" y="114.5" width="13" height="13"/><rect x="132.5" y="114.5" width="13" height="13"/><rect x="150.5" y="114.5" width="13" height="13"/>
</g></g>
</svg>
